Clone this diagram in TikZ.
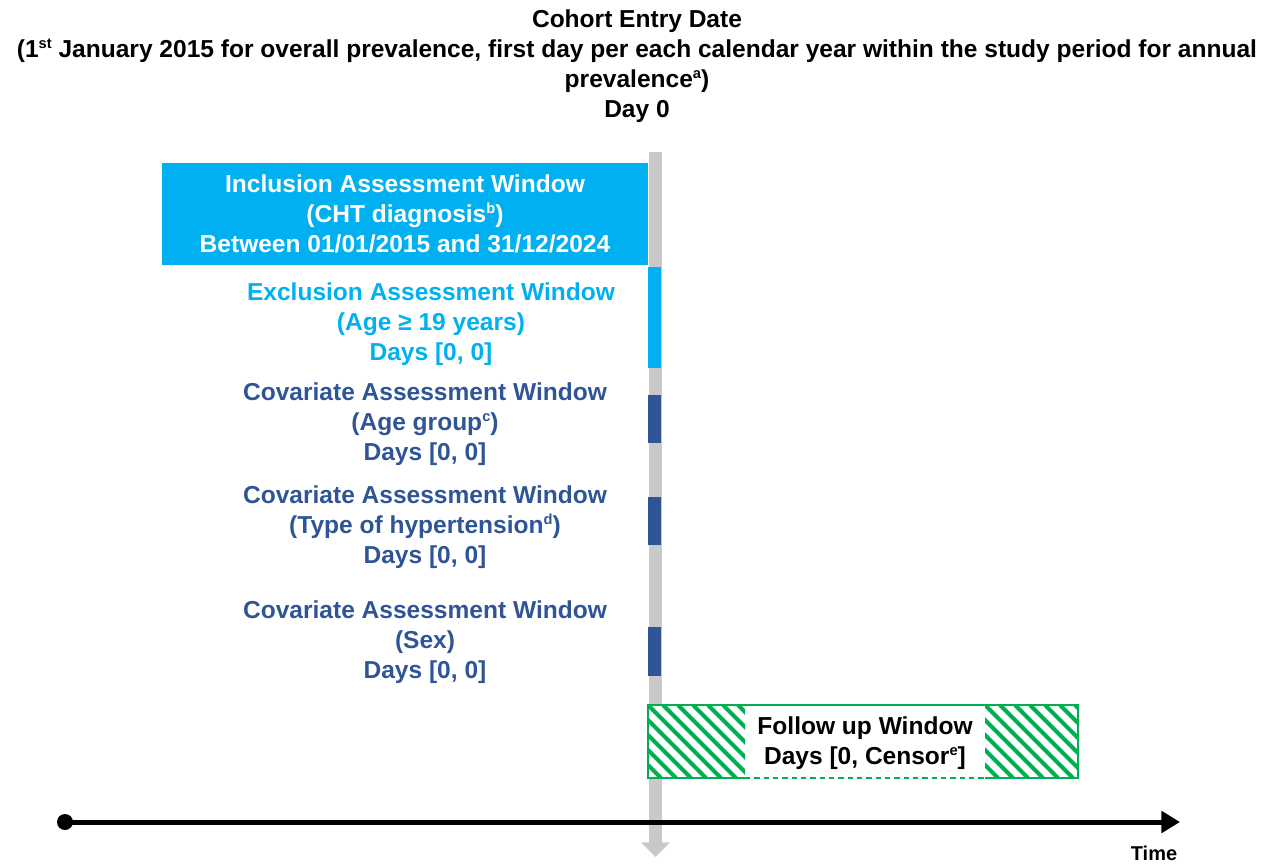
\documentclass[tikz,border=0pt]{standalone}
\usepackage{fontspec}
\setmainfont{Liberation Sans}
\usetikzlibrary{arrows.meta}
\definecolor{cyanw}{HTML}{00B0F0}
\definecolor{darkb}{HTML}{2F5597}
\definecolor{grayb}{HTML}{C9C9C9}
\definecolor{greenw}{HTML}{00B050}
\newcommand\mysup[1]{\raisebox{0.7ex}{\fontsize{11}{11}\selectfont #1}}
\begin{document}
\begin{tikzpicture}[x=0.75pt,y=-0.75pt,
  txt/.style={font=\fontsize{18.4}{22.5}\selectfont\bfseries, align=center, inner sep=0pt},
  bar/.style={minimum width=9.75pt, inner sep=0pt, outer sep=0pt}]
\useasboundingbox (0,0) rectangle (1279,864);
% title
\node[txt] (title) at (637,66) {Cohort Entry Date\\(1\mysup{st} January 2015 for overall prevalence, first day per each calendar year within the study period for annual\\prevalence\mysup{a})\\Day 0};
% gray vertical timeline
\coordinate (vtop) at (655.5,152);
\coordinate (vbot) at (655.5,857);
\draw[grayb, line width=9.75pt, -{Triangle[width=21pt,length=11pt]}] (vtop) -- (vbot);
% inclusion
\node[txt, fill=cyanw, text=white, minimum width=364.5pt, minimum height=76.5pt] (incl) at (405,214) {Inclusion Assessment Window\\(CHT diagnosis\mysup{b})\\Between 01/01/2015 and 31/12/2024};
% exclusion
\node[bar, fill=cyanw, minimum height=75.75pt] (exbar) at (654.5,317.5) {};
\node[txt, text=cyanw] (extxt) at (431,324) {Exclusion Assessment Window\\(Age ≥ 19 years)\\Days [0, 0]};
% covariates
\node[bar, fill=darkb, minimum height=36pt] (cb1) at (654.5,419) {};
\node[bar, fill=darkb, minimum height=36pt] (cb2) at (654.5,521) {};
\node[bar, fill=darkb, minimum height=36.75pt] (cb3) at (654.5,651.5) {};
\node[txt, text=darkb] (ct1) at (425,424) {Covariate Assessment Window\\(Age group\mysup{c})\\Days [0, 0]};
\node[txt, text=darkb] (ct2) at (425,527) {Covariate Assessment Window\\(Type of hypertension\mysup{d})\\Days [0, 0]};
\node[txt, text=darkb] (ct3) at (425,642) {Covariate Assessment Window\\(Sex)\\Days [0, 0]};
% follow up
\fill[white] (648,705) rectangle (1078,778);
\begin{scope}
\clip (648,705) rectangle (745,778);
\foreach \i in {-5,...,8} {\draw[greenw, line width=3pt] (648+\i*15,705) -- ++(73,73);}
\end{scope}
\begin{scope}
\clip (985,705) rectangle (1078,778);
\foreach \i in {-5,...,8} {\draw[greenw, line width=3pt] (985+\i*15,705) -- ++(73,73);}
\end{scope}
\draw[greenw, line width=1.5pt] (745,778) -- (648,778) -- (648,705) -- (1078,705) -- (1078,778) -- (985,778);
\draw[greenw, line width=1.5pt, dash pattern=on 4pt off 3pt] (745,778) -- (985,778);
\node[txt, text=black] (fu) at (865,743) {Follow up Window\\Days [0, Censor\mysup{e}]};
% time axis
\node[circle, fill=black, minimum size=12pt, inner sep=0pt] (dot) at (65,822) {};
\coordinate (tend) at (1180,822);
\draw[line width=3.75pt, -{Triangle[width=16pt,length=14pt]}] (dot.center) -- (tend);
\node[font=\fontsize{15}{18}\selectfont\bfseries, inner sep=0pt] (time) at (1154,853) {Time};
\end{tikzpicture}
\end{document}
